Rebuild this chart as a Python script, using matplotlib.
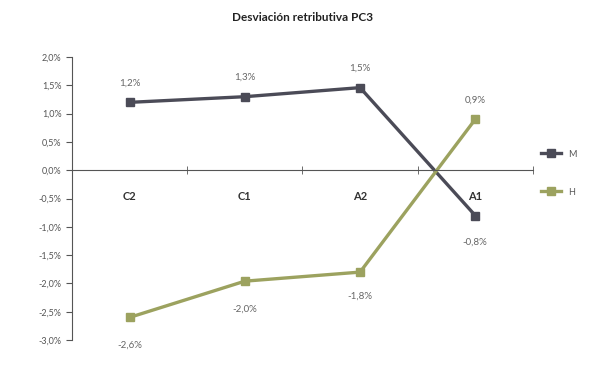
import matplotlib.pyplot as plt
from matplotlib.ticker import FixedLocator

plt.rcParams['font.family'] = ['Lato', 'DejaVu Sans']

categorias = ['C2', 'C1', 'A2', 'A1']
m_vals = [1.2, 1.3, 1.46, -0.8]
h_vals = [-2.6, -1.96, -1.8, 0.9]
y_ticks = [2.0, 1.5, 1.0, 0.5, 0.0, -0.5, -1.0, -1.5, -2.0, -2.5, -3.0]

color_m = '#4b4b57'
color_h = '#9ca25f'


def pct(v):
    return ('%.1f%%' % v).replace('.', ',')


fig = plt.figure(figsize=(6.16, 3.78), dpi=100)
ax = fig.add_axes([0.117, 0.1005, 0.748, 0.7485])

x = list(range(len(categorias)))
ax.plot(x, m_vals, color=color_m, lw=2.4, marker='s', ms=5.5, label='M')
ax.plot(x, h_vals, color=color_h, lw=2.4, marker='s', ms=5.5, label='H')

# etiquetas de datos (offsets en puntos)
m_off = [14, 14, 14, -19]
h_off = [-20, -20, -17, 14]
for i in x:
    ax.annotate(pct(m_vals[i]), (i, m_vals[i]), xytext=(0, m_off[i]),
                textcoords='offset points', ha='center', va='center',
                fontsize=7, color='#666666')
    ax.annotate(pct(h_vals[i]), (i, h_vals[i]), xytext=(0, h_off[i]),
                textcoords='offset points', ha='center', va='center',
                fontsize=7, color='#666666')

ax.set_xlim(-0.5, 3.5)
ax.set_ylim(-3.0, 2.0)

ax.spines['top'].set_visible(False)
ax.spines['right'].set_visible(False)
ax.spines['bottom'].set_position(('data', 0))
ax.spines['bottom'].set_color('#555555')
ax.spines['left'].set_color('#555555')

ax.set_yticks(y_ticks)
ax.set_yticklabels([pct(v) for v in y_ticks])
ax.tick_params(axis='y', labelsize=6.5, labelcolor='#555555', color='#555555',
               length=4, direction='out')

ax.set_xticks(x)
ax.set_xticklabels(categorias, fontweight='bold')
ax.tick_params(axis='x', which='major', length=0, labelsize=8, pad=15,
               labelcolor='#333333')
ax.xaxis.set_minor_locator(FixedLocator([0.5, 1.5, 2.5, 3.5]))
ax.tick_params(axis='x', which='minor', length=6, direction='inout', color='#555555')

ax.set_title('Desviación retributiva PC3', fontsize=8.5, fontweight='bold',
             pad=26, color='#222222')

ax.legend(loc='center left', bbox_to_anchor=(1.0, 0.59), frameon=False,
          fontsize=6.5, labelcolor='#555555', handlelength=2.2,
          labelspacing=3.2, markerscale=1.0)

fig.savefig('out.png', dpi=100)
